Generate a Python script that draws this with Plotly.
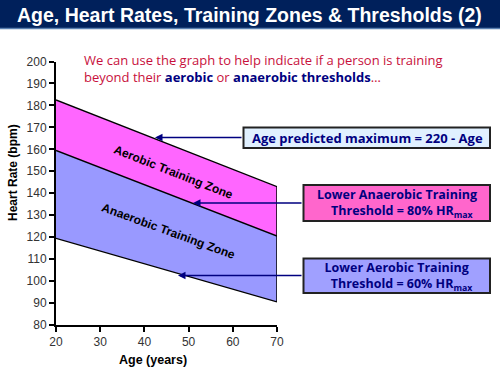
import plotly.graph_objects as go

ages = [20, 70]
hr_max_line = [182.5, 143]
anaerobic_threshold = [159.5, 120.5]
aerobic_threshold = [119.5, 90.5]
x_ticks = [20, 30, 40, 50, 60, 70]
y_ticks = list(range(80, 201, 10))

W, H = 500, 375
def px(x): return x / W
def py(y): return 1 - y / H

NAVY = "#000080"
BAR = "#00205B"
RED = "#C8103C"
FONT_C = "Open Sans, Lato, sans-serif"
FONT_A = "Liberation Sans, Arial, sans-serif"

fig = go.Figure()
fig.add_trace(go.Scatter(x=ages, y=aerobic_threshold, mode="lines",
                         line=dict(color="black", width=1.3), hoverinfo="skip"))
fig.add_trace(go.Scatter(x=ages, y=anaerobic_threshold, mode="lines", fill="tonexty",
                         fillcolor="#9999FF", line=dict(color="black", width=1.3), hoverinfo="skip"))
fig.add_trace(go.Scatter(x=ages, y=hr_max_line, mode="lines", fill="tonexty",
                         fillcolor="#FF66FF", line=dict(color="black", width=1.3), hoverinfo="skip"))
fig.add_trace(go.Scatter(x=[ages[-1], ages[-1]], y=[aerobic_threshold[-1], hr_max_line[-1]],
                         mode="lines", line=dict(color="black", width=1.5), hoverinfo="skip"))

shapes = [
    dict(type="rect", xref="paper", yref="paper", x0=0, x1=1, y0=py(28), y1=1,
         fillcolor=BAR, line=dict(width=0), layer="above"),
    dict(type="line", xref="paper", yref="paper", x0=0, x1=1, y0=py(28.5), y1=py(28.5),
         line=dict(color="#5A7FB0", width=1.5)),
    dict(type="rect", xref="paper", yref="paper", x0=px(243.5), x1=px(490), y0=py(148), y1=py(127.5),
         fillcolor="#E0F0FF", line=dict(color="#222222", width=2)),
    dict(type="rect", xref="paper", yref="paper", x0=px(303.5), x1=px(490), y0=py(221), y1=py(185),
         fillcolor="#FF66CC", line=dict(color="#222222", width=2)),
    dict(type="rect", xref="paper", yref="paper", x0=px(303.5), x1=px(490), y0=py(293), y1=py(258.5),
         fillcolor="#A0A0FF", line=dict(color="#222222", width=2)),
]

def note(text, x, y, size, color, family, angle=0, xanchor="center", align="center"):
    return dict(text=text, xref="paper", yref="paper", x=px(x), y=py(y), showarrow=False,
                textangle=angle, align=align, xanchor=xanchor, yanchor="middle",
                font=dict(family=family, size=size, color=color))

ann = [
    note("<b>Age, Heart Rates, Training Zones &amp; Thresholds (2)</b>", 249, 15, 19.5, "white", FONT_A),
    note("We can use the graph to help indicate if a person is training<br>"
         "beyond their <b><span style='color:#000080'>aerobic</span></b> or "
         "<b><span style='color:#000080'>anaerobic thresholds</span></b>…",
         82, 68, 13, RED, FONT_C, xanchor="left", align="left"),
    note("<b>Age predicted maximum = 220 - Age</b>", 367, 138, 13, NAVY, FONT_C),
    note("<b>Lower Anaerobic Training<br>   Threshold = 80% HR<sub>max</sub></b>", 397, 203, 12.5, NAVY, FONT_C),
    note("<b>Lower Aerobic Training<br>   Threshold = 60% HR<sub>max</sub></b>", 397, 276, 12.5, NAVY, FONT_C),
    note("<b>Aerobic Training Zone</b>", 173, 172, 12, "black", FONT_A, angle=21.5),
    note("<b>Anaerobic Training Zone</b>", 168, 231, 12, "black", FONT_A, angle=20),
    note("<b>Heart Rate (bpm)</b>", 13, 173, 12, "black", FONT_A, angle=-90),
    note("<b>Age (years)</b>", 153, 360, 12.5, "black", FONT_A),
]
# arrows
for hx, hy, tx in [(155, 137.5, 243), (193, 203, 303), (178, 275.5, 303)]:
    ann.append(dict(text="", xref="paper", yref="paper", x=px(hx), y=py(hy),
                    ax=tx - hx, ay=0, axref="pixel", ayref="pixel", showarrow=True,
                    arrowhead=2, arrowsize=1, arrowwidth=1.5, arrowcolor=NAVY))

fig.update_layout(
    width=W, height=H, margin=dict(l=0, r=0, t=0, b=0),
    paper_bgcolor="white", plot_bgcolor="white", showlegend=False,
    shapes=shapes, annotations=ann,
    xaxis=dict(domain=[px(56), px(277)], range=[20, 70], tickvals=x_ticks,
               showline=True, linecolor="black", linewidth=2, ticks="outside",
               ticklen=5, tickwidth=1.5, tickcolor="black", showgrid=False, zeroline=False,
               tickfont=dict(family=FONT_A, size=12, color="#333333"), automargin=False),
    yaxis=dict(domain=[py(325), py(61.5)], range=[80, 200], tickvals=y_ticks,
               showline=True, linecolor="black", linewidth=2, ticks="outside",
               ticklen=5, tickwidth=1.5, tickcolor="black", showgrid=False, zeroline=False,
               tickfont=dict(family=FONT_A, size=12, color="#333333"), automargin=False),
)
fig.write_html("out.html", config={"displayModeBar": False},
               post_script="document.body.style.margin='0';document.body.style.overflow='hidden';")
